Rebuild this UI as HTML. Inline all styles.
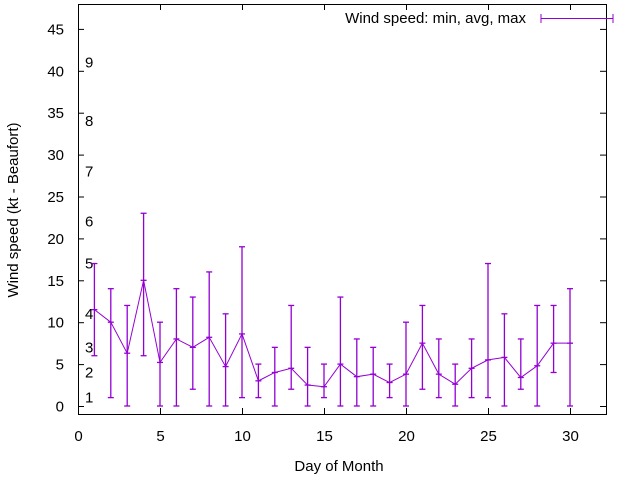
<!DOCTYPE html>
<html><head><meta charset="utf-8"><style>
body{margin:0;background:#fff}
svg text{font-family:"Liberation Sans",sans-serif;font-size:15px;fill:#000}
</style></head><body>
<svg id="c" width="640" height="480">
<rect x="78.5" y="4.5" width="528" height="410" fill="none" stroke="#000"/>
<g id="axes"></g><g id="marks"></g>
<text x="18" y="210" text-anchor="middle" transform="rotate(-90 18 210)">Wind speed (kt - Beaufort)</text>
<text x="339" y="471" text-anchor="middle">Day of Month</text>
<g>
<text x="526" y="23" text-anchor="end">Wind speed: min, avg, max</text>
<line x1="541" y1="18.5" x2="613" y2="18.5" stroke="#9400d3"/>
<line x1="541" y1="14" x2="541" y2="23" stroke="#9400d3"/>
<line x1="613" y1="14" x2="613" y2="23" stroke="#9400d3"/>
</g>
</svg>
<script>
const days=[1,2,3,4,5,6,7,8,9,10,11,12,13,14,15,16,17,18,19,20,21,22,23,24,25,26,27,28,29,30];
const avgs=[11.5,10,6.3,15,5.2,8,7,8.2,4.7,8.6,3,4,4.5,2.5,2.3,5,3.5,3.8,2.8,3.8,7.5,3.8,2.6,4.5,5.5,5.8,3.4,4.8,7.5,7.5];
const mins=[6,1,0,6,0,0,2,0,0,1,1,0,2,0,1,0,0,0,1,0,2,1,0,1,1,0,2,0,4,0];
const maxs=[17,14,12,23,10,14,13,16,11,19,5,7,12,7,5,13,8,7,5,10,12,8,5,8,17,11,8,12,12,14];
const xTicks=[0,5,10,15,20,25,30];
const yTicks=[0,5,10,15,20,25,30,35,40,45];
const bfLabels=["1","2","3","4","5","6","7","8","9"];
const bfKt=[1,4,7,11,17,22,28,34,41];
const X=v=>78+v*16.4, Y=v=>406-v*8.38;
const NS="http://www.w3.org/2000/svg";
function mk(p,t,a){const e=document.createElementNS(NS,t);for(const k in a)e.setAttribute(k,a[k]);p.appendChild(e);return e;}
const ax=document.getElementById('axes'), mg=document.getElementById('marks');
xTicks.forEach(v=>{const x=X(v)+0.5;
mk(ax,'line',{x1:x,y1:414,x2:x,y2:408,stroke:'#000'});mk(ax,'line',{x1:x,y1:4,x2:x,y2:10,stroke:'#000'});
const t=mk(ax,'text',{x:x,y:441,'text-anchor':'middle'});t.textContent=v;

});
yTicks.forEach(v=>{const y=Y(v)+0.5;
mk(ax,'line',{x1:78,y1:y,x2:84,y2:y,stroke:'#000'});mk(ax,'line',{x1:606,y1:y,x2:600,y2:y,stroke:'#000'});
const t=mk(ax,'text',{x:64,y:y+5,'text-anchor':'end'});t.textContent=v;

});
bfLabels.forEach((s,i)=>{const t=mk(ax,'text',{x:85,y:Y(bfKt[i])+5});t.textContent=s;

});
let pts=days.map((d,i)=>X(d)+','+Y(avgs[i])).join(' ');
pts+=' '+(X(30)+3)+','+Y(avgs[29]);
const pl=mk(mg,'polyline',{points:pts,fill:'none',stroke:'#9400d3'});


days.forEach((d,i)=>{const x=X(d);
const g=mk(mg,'g',{stroke:'#9400d3','stroke-width':1.3});


mk(g,'line',{x1:x,y1:Y(mins[i]),x2:x,y2:Y(maxs[i])});
[mins[i],maxs[i],avgs[i]].forEach(v=>mk(g,'line',{x1:x-3,y1:Y(v),x2:x+3,y2:Y(v)}));});
</script>
</body></html>
